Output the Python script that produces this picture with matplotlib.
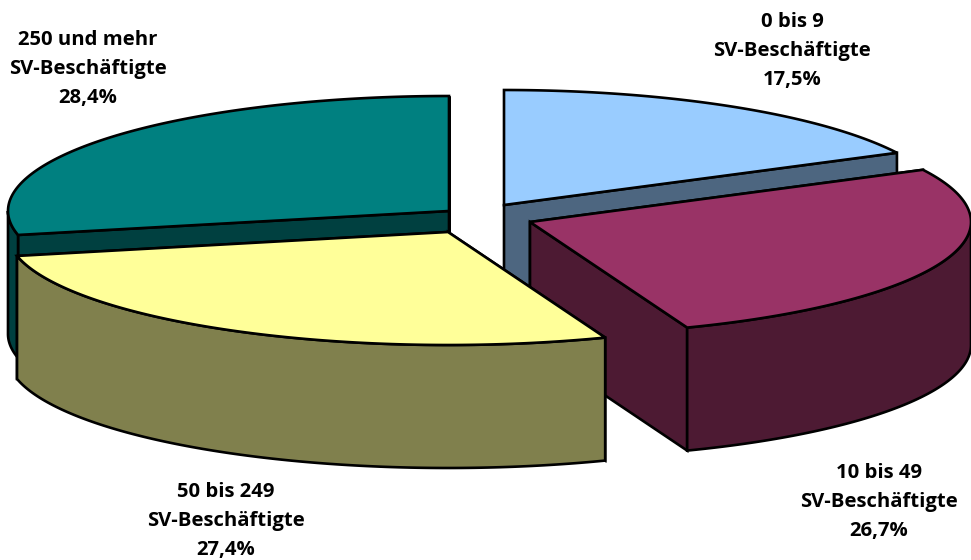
import numpy as np
import matplotlib
matplotlib.use('Agg')
import matplotlib.pyplot as plt
from matplotlib.patches import Polygon

categories = ['0 bis 9', '10 bis 49', '50 bis 249', '250 und mehr']
shares = [17.5, 26.7, 27.4, 28.4]
top_colors = ['#99CCFF', '#993366', '#FFFF99', '#008080']
side_colors = ['#4D6680', '#4D1A33', '#80804D', '#004040']

# each slice is pulled out of the pie, so every one has its own centre
centers = [(504, 205), (530, 222), (448, 232), (449, 211)]
label_pos = [(792, 51), (879, 502), (226, 521), (88, 69)]

RX = 441
RY_BACK, RY_FRONT = 115, 113
DEPTH = 123
LW = 1.9

plt.rcParams['font.family'] = ['Open Sans', 'DejaVu Sans']

fig = plt.figure(figsize=(9.71, 5.6), dpi=100)
ax = fig.add_axes([0, 0, 1, 1])
ax.set_xlim(0, 971)
ax.set_ylim(560, 0)
ax.axis('off')


def rim(cx, cy, a, b):
    # points on the ellipse, angles clockwise from the top
    t = np.radians(np.linspace(a, b, 120))
    ry = np.where(np.cos(t) > 0, RY_BACK, RY_FRONT)
    return np.column_stack([cx + RX * np.sin(t), cy - ry * np.cos(t)])


def add_poly(pts, color):
    ax.add_patch(Polygon(pts, closed=True, facecolor=color, edgecolor='black',
                         linewidth=LW, joinstyle='miter'))


def cut_face(cx, cy, angle):
    p = rim(cx, cy, angle, angle)[0]
    return [(cx, cy), p, (p[0], p[1] + DEPTH), (cx, cy + DEPTH)]


# cumulative start and end angle of the slices
ends = np.cumsum(shares) / sum(shares) * 360
starts = np.concatenate([[0], ends[:-1]])

# painter's order: back slices first, yellow ends up in front
for i in [3, 0, 1, 2]:
    cx, cy = centers[i]
    a, b = starts[i], ends[i]

    # hidden cut faces go first so the visible one is on top of them
    faces = [(np.sin(np.radians(a)) < -1e-6, a), (np.sin(np.radians(b)) > 1e-6, b)]
    for visible, angle in sorted(faces, key=lambda f: f[0]):
        add_poly(cut_face(cx, cy, angle), side_colors[i])

    # outer wall, only the part facing the viewer
    lo, hi = max(a, 90), min(b, 270)
    if hi > lo:
        arc = rim(cx, cy, lo, hi)
        lower = arc + [0, DEPTH]
        add_poly(np.vstack([arc, lower[::-1]]), side_colors[i])

    add_poly(np.vstack([[(cx, cy)], rim(cx, cy, a, b)]), top_colors[i])

for name, share, (x, y) in zip(categories, shares, label_pos):
    txt = f'{name}\nSV-Beschäftigte\n{share:.1f}%'.replace('.', ',')
    ax.text(x, y, txt, ha='center', va='center', fontsize=14.6, fontweight='bold',
            linespacing=1.6, color='black')

plt.savefig('out.png', dpi=100)
